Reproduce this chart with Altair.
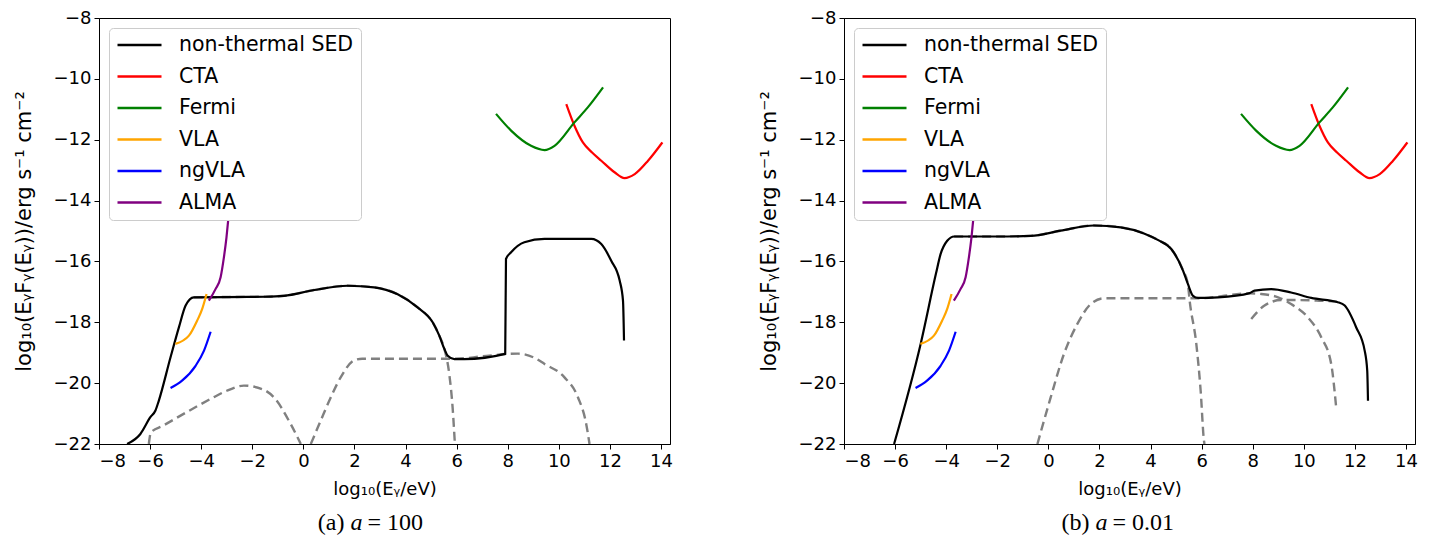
import altair as alt
import pandas as pd

# ---------------- detector sensitivity curves (same in both panels) ----------------
cta_x = [10.29, 10.61, 10.94, 11.30, 11.66, 12.18, 12.57, 12.97, 13.49, 14.05]
cta_y = [-10.83, -11.54, -12.09, -12.42, -12.69, -13.07, -13.26, -13.13, -12.69, -12.09]
fermi_x = [7.54, 8.13, 8.91, 9.44, 9.83, 10.61, 11.14, 11.73]
fermi_y = [-11.15, -11.70, -12.20, -12.34, -12.20, -11.43, -10.93, -10.28]
vla_x = [-5.01, -4.48, -4.16, -3.96, -3.79]
vla_y = [-18.71, -18.44, -17.95, -17.56, -17.07]
ngvla_x = [-5.20, -4.75, -4.22, -3.89, -3.63]
ngvla_y = [-20.16, -19.92, -19.43, -18.93, -18.31]
alma_x = [-3.70, -3.44, -3.24, -3.11, -3.01, -2.94]
alma_y = [-17.29, -16.91, -16.52, -15.86, -15.21, -14.62]

# ---------------- panel (a): a = 100 ----------------
sed_a_x = [-6.90, -6.38, -5.99, -5.79, -5.66, -5.20, -4.87, -4.61, -4.29, -3.00, -1.50,
           -0.76, 0.42, 1.73, 2.77, 3.69, 4.47, 5.06, 5.32, 5.52, 5.65, 5.91, 6.30,
           7.90, 7.93, 8.13, 8.65, 9.44, 11.27, 11.66, 12.05, 12.38, 12.51, 12.55]
sed_a_y = [-22.00, -21.67, -21.12, -20.90, -20.58, -19.15, -18.16, -17.45, -17.18, -17.17, -17.16,
           -17.13, -16.94, -16.80, -16.85, -17.08, -17.51, -18.00, -18.44, -18.88, -19.10, -19.21, -19.21,
           -19.04, -15.92, -15.70, -15.37, -15.26, -15.26, -15.43, -15.98, -16.63, -17.29, -18.60]
# dashed components
syn_a_x = [-6.05, -5.97, -5.50, -5.00, -4.16, -3.50, -3.00, -2.33, -1.60, -1.15, -0.50, -0.10]
syn_a_y = [-22.00, -21.62, -21.40, -21.16, -20.76, -20.46, -20.25, -20.08, -20.20, -20.47, -21.34, -22.00]
hi_a_x = [-4.29, -3.00, -1.50, -0.76, 0.42, 1.73, 2.77, 3.69, 4.47, 5.06, 5.32, 5.52, 5.71, 5.84, 5.93]
hi_a_y = [-17.18, -17.17, -17.16, -17.13, -16.94, -16.80, -16.85, -17.08, -17.51, -18.00, -18.44, -18.88,
          -19.70, -20.79, -22.00]
ic_a_x = [0.29, 0.68, 1.07, 1.50, 1.99, 2.30, 5.90, 7.00, 8.00, 8.40, 9.00, 9.44, 10.22, 10.75, 11.07, 11.20]
ic_a_y = [-22.00, -21.23, -20.47, -19.75, -19.25, -19.20, -19.20, -19.12, -19.04, -19.03, -19.15, -19.37,
          -19.81, -20.47, -21.34, -22.00]

# ---------------- panel (b): a = 0.01 ----------------
sed_b_x = [-6.04, -5.00, -4.40, -4.22, -3.96, -3.69, -2.00, -0.69, 0.48, 1.78, 2.83, 3.74, 4.30,
           4.81, 5.27, 5.46, 5.66, 5.86, 6.64, 7.88, 8.07, 8.72, 9.50, 10.29, 11.33, 11.60,
           12.05, 12.38, 12.48, 12.51]
sed_b_y = [-22.00, -18.71, -16.40, -15.76, -15.32, -15.18, -15.18, -15.16, -14.99, -14.82, -14.88, -15.08,
           -15.30, -15.59, -16.30, -16.74, -17.13, -17.20, -17.18, -17.04, -16.96, -16.91, -17.02, -17.20,
           -17.34, -17.45, -18.17, -18.93, -19.59, -20.58]
hi_b_x = [-3.69, -2.00, -0.69, 0.48, 1.78, 2.83, 3.74, 4.30, 4.81, 5.27, 5.46, 5.53, 5.79, 5.96, 6.09, 6.11]
hi_b_y = [-15.18, -15.18, -15.16, -14.99, -14.82, -14.88, -15.08, -15.30, -15.59, -16.30, -16.74, -17.29,
          -18.71, -20.25, -21.89, -22.00]
ic_b_x = [-0.43, 0.09, 0.61, 1.13, 1.66, 2.18, 5.90, 7.88, 8.33, 8.99, 9.50, 10.16, 10.68, 11.07, 11.27]
ic_b_y = [-22.00, -20.47, -19.04, -18.06, -17.40, -17.21, -17.21, -17.05, -17.07, -17.18, -17.40, -17.84,
          -18.49, -19.37, -20.85]
ic2_b_x = [7.94, 8.46, 9.11, 9.80, 10.60, 11.30]
ic2_b_y = [-17.89, -17.45, -17.27, -17.27, -17.29, -17.32]

series_names = ["non-thermal SED", "CTA", "Fermi", "VLA", "ngVLA", "ALMA"]
series_colors = ["black", "#ff0000", "green", "orange", "blue", "purple"]
caption_tags = ["(a)", "(b)"]
caption_vals = ["= 100", "= 0.01"]

x_ticks = list(range(-8, 15, 2))
y_ticks = list(range(-22, -7, 2))

X_TITLE = "log\u2081\u2080(E\u1d67/eV)"
Y_TITLE = "log\u2081\u2080(E\u1d67F\u1d67(E\u1d67))/erg s\u207b\u00b9 cm\u207b\u00b2"
FONT = "DejaVu Sans"
FS = 18


def lines_df(pairs):
    rows = []
    for name, xs, ys in pairs:
        for i, (a, b) in enumerate(zip(xs, ys)):
            rows.append({"series": name, "x": a, "y": b, "i": i})
    return pd.DataFrame(rows)


def panel(sed_x, sed_y, dashed, tag, val):
    solid = lines_df([
        ("non-thermal SED", sed_x, sed_y),
        ("CTA", cta_x, cta_y),
        ("Fermi", fermi_x, fermi_y),
        ("VLA", vla_x, vla_y),
        ("ngVLA", ngvla_x, ngvla_y),
        ("ALMA", alma_x, alma_y),
    ])
    dash = lines_df(dashed)

    xs = alt.Scale(domain=[-8, 14.35], nice=False, zero=False)
    ys = alt.Scale(domain=[-22, -8], nice=False, zero=False)
    xax = alt.Axis(values=x_ticks, format="d", title=X_TITLE, grid=False, titlePadding=10)
    yax = alt.Axis(values=y_ticks, format="d", title=Y_TITLE, grid=False,
                   titleFontSize=21, titlePadding=18.5)

    d_layer = alt.Chart(dash).mark_line(
        color="gray", strokeWidth=2.4, strokeDash=[9, 5], clip=True, interpolate="monotone"
    ).encode(
        x=alt.X("x:Q", scale=xs, axis=xax),
        y=alt.Y("y:Q", scale=ys, axis=yax),
        detail="series:N",
        order="i:Q",
    )
    s_layer = alt.Chart(solid).mark_line(strokeWidth=2.2, clip=True, interpolate="monotone").encode(
        x=alt.X("x:Q", scale=xs, axis=xax),
        y=alt.Y("y:Q", scale=ys, axis=yax),
        color=alt.Color(
            "series:N",
            scale=alt.Scale(domain=series_names, range=series_colors),
            legend=alt.Legend(
                title=None, orient="top-left", offset=10, symbolType="stroke",
                symbolSize=1936, symbolStrokeWidth=2.5, labelFont=FONT,
                labelFontSize=20.5, labelColor="black", fillColor="white",
                strokeColor="#cccccc", cornerRadius=4, padding=7, rowPadding=10.5,
                labelOffset=16, labelLimit=400, clipHeight=20,
            ),
        ),
        order="i:Q",
    )
    cap = pd.DataFrame({"tag": [tag], "ital": ["a"], "val": [val]})
    t1 = alt.Chart(cap).mark_text(
        font="Liberation Serif", fontSize=24, align="right", baseline="alphabetic", color="black"
    ).encode(x=alt.value(245.5), y=alt.value(512), text="tag:N")
    t2 = alt.Chart(cap).mark_text(
        font="Liberation Serif", fontSize=24, fontStyle="italic", align="center",
        baseline="alphabetic", color="black"
    ).encode(x=alt.value(257.5), y=alt.value(512), text="ital:N")
    t3 = alt.Chart(cap).mark_text(
        font="Liberation Serif", fontSize=24, align="left", baseline="alphabetic", color="black"
    ).encode(x=alt.value(268.5), y=alt.value(512), text="val:N")
    return alt.layer(d_layer, s_layer, t1, t2, t3).properties(width=571, height=426)


left = panel(sed_a_x, sed_a_y,
             [("syn", syn_a_x, syn_a_y), ("hi", hi_a_x, hi_a_y), ("ic", ic_a_x, ic_a_y)],
             caption_tags[0], caption_vals[0])
right = panel(sed_b_x, sed_b_y,
              [("hi", hi_b_x, hi_b_y), ("ic", ic_b_x, ic_b_y), ("ic2", ic2_b_x, ic2_b_y)],
              caption_tags[1], caption_vals[1])

chart = alt.hconcat(left, right, spacing=84).resolve_scale(color="independent").configure_view(
    stroke="black", strokeWidth=1
).configure_axis(
    labelFont=FONT, titleFont=FONT, labelFontSize=FS, titleFontSize=FS,
    titleFontWeight="normal", labelColor="black", titleColor="black",
    tickColor="black", domainColor="black", tickSize=5, labelPadding=3,
).properties(padding={"left": 5, "top": 0, "right": 5, "bottom": 0}, background="white")

chart.save("out.html", embed_options={"renderer": "svg", "actions": False})
